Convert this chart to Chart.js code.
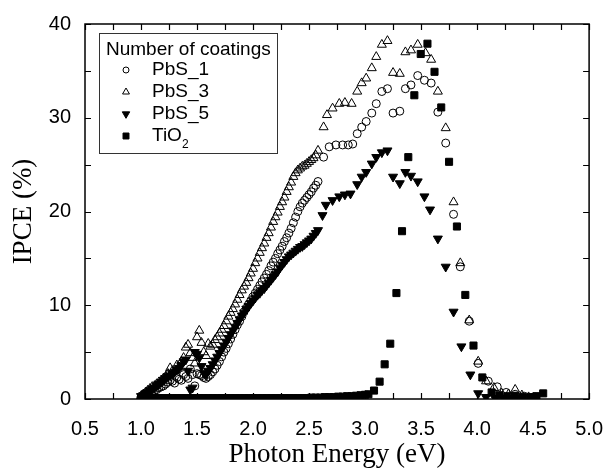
<!DOCTYPE html>
<html>
<head>
<meta charset="utf-8">
<script src="https://cdn.jsdelivr.net/npm/chart.js@4/dist/chart.umd.min.js"></script>
<style>
  html, body { margin: 0; padding: 0; background: #fff; }
  canvas { display: block; }
</style>
</head>
<body>
<canvas id="grafico" width="613" height="471"></canvas>
<script>
// dense low-energy part, shared by the three PbS samples (eV)
const eLow = [1.00,1.02,1.04,1.06,1.08,1.10,1.12,1.14,1.16,1.18,
              1.20,1.22,1.24,1.26,1.28,1.30,1.32,1.34,1.36,1.38,
              1.40,1.42,1.44,1.46,1.48,1.50,1.52,1.54,1.56,1.58,
              1.60,1.62,1.64,1.66,1.68,1.70,1.72,1.74,1.76,1.78,
              1.80,1.82,1.84,1.86,1.88,1.90,1.92,1.94,1.96,1.98,
              2.00,2.02,2.04,2.06,2.08,2.10,2.12,2.14,2.16,2.18,
              2.20,2.22,2.24,2.26,2.28,2.30,2.32,2.34,2.36,2.38,
              2.40,2.42,2.44,2.46,2.48,2.50,2.52,2.54,2.56,2.58];

// PbS_1 (open circles)
const pbs1Low = [0.2,0.3,0.4,0.5,0.6,0.8,0.9,1.0,1.2,1.3,
                 1.4,1.6,1.8,2.0,1.9,1.7,2.3,2.1,2.0,2.6,
                 2.4,2.2,3.2,2.6,1.4,2.7,2.6,2.5,2.3,2.2,
                 2.4,2.6,2.9,3.2,3.6,4.0,4.5,5.0,5.4,5.9,
                 6.4,6.9,7.4,7.9,8.3,8.8,9.3,9.7,10.1,10.5,
                 10.9,11.3,11.7,12.1,12.5,12.9,13.3,13.7,14.2,14.6,
                 15.0,15.5,15.9,16.3,16.8,17.2,17.7,18.2,18.8,19.4,
                 20.0,20.5,20.9,21.2,21.5,21.8,22.1,22.5,22.8,23.2];
const pbs1HighE = [2.63,2.68,2.74,2.80,2.85,2.89,2.93,2.97,3.01,3.06,3.10,3.15,3.20,3.25,3.31,3.36,
                   3.41,3.47,3.53,3.59,3.65,3.72,3.79,3.85,3.93,4.01,4.10,4.18,4.26,4.34,4.42,4.50];
const pbs1High = [25.8,26.9,27.1,27.1,27.1,27.2,28.3,29.0,29.6,30.5,31.5,32.8,33.1,30.5,30.7,33.1,
                  33.5,34.5,34.0,33.7,30.6,27.3,19.7,14.1,8.3,3.8,1.9,1.3,0.7,0.5,0.3,0.2];

// PbS_3 (open triangles)
const pbs3Low = [0.3,0.5,0.7,0.9,1.1,1.3,1.4,1.6,1.8,2.0,
                 2.2,2.4,2.7,3.3,3.0,3.0,3.6,3.4,4.0,4.4,
                 5.5,5.8,4.9,4.4,3.8,6.6,7.3,6.0,5.0,4.6,
                 5.9,5.6,5.8,6.3,6.6,7.0,7.4,7.8,8.3,8.8,
                 9.2,9.6,10.1,10.6,11.1,11.6,12.0,12.4,12.9,13.4,
                 13.9,14.5,15.0,15.6,16.1,16.6,17.2,17.7,18.3,18.9,
                 19.4,19.9,20.5,21.0,21.5,22.1,22.6,23.1,23.7,24.1,
                 24.4,24.6,24.8,24.9,25.1,25.3,25.5,25.7,26.0,26.5];
const pbs3HighE = [2.63,2.66,2.71,2.77,2.82,2.88,2.93,2.97,3.01,3.06,3.10,3.15,3.20,3.25,3.31,3.36,3.41,
                   3.47,3.54,3.59,3.65,3.72,3.79,3.85,3.93,4.01,4.08,4.15,4.22,4.28,4.34,4.40,4.46,4.52];
const pbs3High = [29.0,30.3,31.0,31.5,31.6,31.5,32.8,33.7,34.2,35.3,36.5,37.8,38.2,34.8,34.7,37.0,37.2,
                  37.8,36.9,36.2,32.8,28.9,21.0,14.5,8.4,4.0,1.9,1.2,0.6,0.5,1.0,0.4,0.2,0.1];

// PbS_5 (filled down triangles)
const pbs5Low = [0.3,0.4,0.6,0.7,0.9,1.1,1.2,1.4,1.6,1.8,
                 2.0,2.2,2.4,2.5,2.7,2.9,3.1,3.3,3.6,4.0,
                 4.2,3.0,1.0,1.2,5.0,4.8,4.4,3.5,2.8,2.6,
                 3.0,3.3,3.7,4.1,4.5,4.9,5.3,5.7,6.1,6.5,
                 6.9,7.3,7.7,8.1,8.5,8.9,9.2,9.6,9.9,10.2,
                 10.5,10.8,11.1,11.3,11.6,11.8,12.1,12.4,12.7,13.0,
                 13.3,13.6,14.0,14.3,14.6,14.9,15.2,15.4,15.6,15.8,
                 16.0,16.2,16.3,16.5,16.7,16.9,17.1,17.4,17.7,18.0];
const pbs5HighE = [2.62,2.65,2.71,2.77,2.82,2.87,2.93,2.97,3.01,3.06,3.10,3.15,3.20,3.25,3.31,3.36,
                   3.41,3.47,3.53,3.58,3.65,3.72,3.79,3.86,3.94,4.01,4.08,4.16,4.24,4.32,4.40,4.48];
const pbs5High = [19.6,20.7,21.2,21.6,21.8,21.9,22.9,23.7,24.2,25.1,25.8,26.3,26.5,23.7,23.0,24.2,
                  23.8,23.2,21.6,20.2,17.1,14.1,9.3,5.6,2.6,0.6,0.2,0.1,0.1,0.1,0.1,0.1];

// TiO2 (filled squares)
const tio2E = [1.00,1.04,1.08,1.12,1.16,1.20,1.24,1.28,1.32,1.36,1.40,1.44,1.48,1.52,1.56,1.60,1.64,
               1.68,1.72,1.76,1.80,1.84,1.88,1.92,1.96,2.00,2.04,2.08,2.12,2.16,2.20,2.24,2.28,2.32,
               2.36,2.40,2.44,2.48,2.52,2.56,2.60,2.64,2.68,2.72,2.76,2.80,2.84,2.88,2.92,2.96,3.00,
               3.03,3.08,3.13,3.175,3.225,3.28,3.33,3.386,3.44,3.497,3.557,3.62,3.68,3.75,3.82,3.895,
               3.968,4.047,4.13,4.20,4.27,4.34,4.41,4.48,4.53,4.59];
const tio2 = [0.1,0.1,0.1,0.1,0.1,0.1,0.1,0.1,0.1,0.1,0.1,0.1,0.1,0.1,0.1,0.1,0.1,
              0.1,0.1,0.1,0.1,0.1,0.1,0.1,0.1,0.1,0.1,0.1,0.1,0.1,0.1,0.1,0.1,0.1,
              0.1,0.1,0.1,0.1,0.15,0.15,0.15,0.2,0.2,0.2,0.25,0.25,0.3,0.3,0.35,0.4,0.45,
              0.5,0.9,1.85,3.7,5.9,11.3,17.9,25.8,32.4,36.8,37.9,34.9,31.1,25.3,18.4,11.1,
              5.7,2.3,0.7,0.4,0.3,0.3,0.2,0.2,0.3,0.6];

const seriesNames = ['PbS_1', 'PbS_3', 'PbS_5', 'TiO2'];
const legendTitle = 'Number of coatings';
const xTitle = 'Photon Energy (eV)';
const yTitle = 'IPCE (%)';

function pares(xs, ys) {
    return xs.map((v, i) => ({ x: v, y: ys[i] }));
}

const estilos = [
    { pointStyle: 'circle', radius: 4, rotation: 0, fill: 'rgba(0,0,0,0)', legRadius: 3 },
    { pointStyle: 'triangle', radius: 5.2, rotation: 0, fill: 'rgba(0,0,0,0)', legRadius: 4 },
    { pointStyle: 'triangle', radius: 5.2, rotation: 180, fill: '#000', legRadius: 4.3 },
    { pointStyle: 'rect', radius: 5, rotation: 0, fill: '#000', legRadius: 4.2 }
];

const dados = [
    pares(eLow.concat(pbs1HighE), pbs1Low.concat(pbs1High)),
    pares(eLow.concat(pbs3HighE), pbs3Low.concat(pbs3High)),
    pares(eLow.concat(pbs5HighE), pbs5Low.concat(pbs5High)),
    pares(tio2E, tio2)
];

const datasets = dados.map((d, i) => ({
    label: seriesNames[i],
    data: d,
    showLine: false,
    pointStyle: estilos[i].pointStyle,
    pointRotation: estilos[i].rotation,
    pointRadius: estilos[i].radius,
    pointHoverRadius: estilos[i].radius,
    pointBackgroundColor: estilos[i].fill,
    pointBorderColor: '#000',
    pointBorderWidth: 1
}));

// marker for the legend, same shapes as the data
function marcador(ctx, est, x, y) {
    const r = est.legRadius;
    ctx.beginPath();
    if (est.pointStyle === 'circle') {
        ctx.arc(x, y, r, 0, Math.PI * 2);
    } else if (est.pointStyle === 'rect') {
        const s = r * Math.SQRT1_2;
        ctx.rect(x - s, y - s, 2 * s, 2 * s);
    } else {
        const d = est.rotation === 180 ? -1 : 1;
        ctx.moveTo(x, y - d * r);
        ctx.lineTo(x + r * 0.866, y + d * r * 0.5);
        ctx.lineTo(x - r * 0.866, y + d * r * 0.5);
        ctx.closePath();
    }
    ctx.fillStyle = est.fill;
    ctx.fill();
    ctx.lineWidth = 1;
    ctx.strokeStyle = '#000';
    ctx.stroke();
}

const moldura = {
    id: 'moldura',
    afterDraw(chart) {
        const { ctx, chartArea: a } = chart;
        const x = chart.scales.x;
        const y = chart.scales.y;
        ctx.save();
        ctx.strokeStyle = '#000';
        ctx.lineWidth = 1.5;
        ctx.strokeRect(a.left, a.top, a.right - a.left, a.bottom - a.top);

        // inward ticks on all four sides
        ctx.lineWidth = 1.2;
        ctx.beginPath();
        for (let v = 0.5; v <= 5.001; v += 0.25) {
            const px = Math.round(x.getPixelForValue(v)) + 0.5;
            ctx.moveTo(px, a.bottom); ctx.lineTo(px, a.bottom - 6);
            ctx.moveTo(px, a.top); ctx.lineTo(px, a.top + 6);
        }
        for (let v = 0; v <= 40.001; v += 5) {
            const py = Math.round(y.getPixelForValue(v)) + 0.5;
            ctx.moveTo(a.left, py); ctx.lineTo(a.left + 6, py);
            ctx.moveTo(a.right, py); ctx.lineTo(a.right - 6, py);
        }
        ctx.stroke();

        // legend box
        const lx = 99.5, ly = 33.5, lw = 178, lh = 120;
        ctx.fillStyle = '#fff';
        ctx.fillRect(lx, ly, lw, lh);
        ctx.lineWidth = 1;
        ctx.strokeStyle = '#333';
        ctx.strokeRect(lx, ly, lw, lh);

        ctx.fillStyle = '#000';
        ctx.font = '19px "Liberation Sans", Arial, sans-serif';
        ctx.textBaseline = 'middle';
        ctx.textAlign = 'left';
        ctx.fillText(legendTitle, 106, 50);

        const linhas = [70, 92, 114, 136];
        seriesNames.forEach((nome, i) => {
            marcador(ctx, estilos[i], 126, linhas[i]);
            ctx.fillStyle = '#000';
            ctx.font = '19px "Liberation Sans", Arial, sans-serif';
            if (nome === 'TiO2') {
                ctx.fillText('TiO', 152, linhas[i]);
                const w = ctx.measureText('TiO').width;
                ctx.font = '12px "Liberation Sans", Arial, sans-serif';
                ctx.fillText('2', 152 + w, linhas[i] + 9);
            } else {
                ctx.fillText(nome, 152, linhas[i]);
            }
        });
        ctx.restore();
    }
};

Chart.defaults.color = '#000';

const chart = new Chart(document.getElementById('grafico').getContext('2d'), {
    type: 'scatter',
    data: { datasets: datasets },
    options: {
        responsive: false,
        animation: false,
        layout: { padding: { top: 24, right: 15, left: 0, bottom: 0 } },
        plugins: {
            legend: { display: false },
            tooltip: { enabled: false }
        },
        scales: {
            x: {
                type: 'linear',
                min: 0.5,
                max: 5.0,
                afterFit: s => { s.height = 72; },
                grid: { display: false },
                border: { display: false },
                ticks: {
                    stepSize: 0.5,
                    padding: 10,
                    maxRotation: 0,
                    autoSkip: false,
                    font: { family: '"Liberation Sans", Arial, sans-serif', size: 20 },
                    callback: v => v.toFixed(1)
                },
                title: {
                    display: true,
                    text: xTitle,
                    padding: { top: 0, bottom: 0 },
                    font: { family: '"Liberation Serif", "Times New Roman", serif', size: 27 }
                }
            },
            y: {
                type: 'linear',
                min: 0,
                max: 40,
                afterFit: s => { s.width = 85; },
                grid: { display: false },
                border: { display: false },
                ticks: {
                    stepSize: 10,
                    padding: 6,
                    font: { family: '"Liberation Sans", Arial, sans-serif', size: 20 }
                },
                title: {
                    display: true,
                    text: yTitle,
                    padding: { top: 8, bottom: 0 },
                    font: { family: '"Liberation Serif", "Times New Roman", serif', size: 27 }
                }
            }
        }
    },
    plugins: [moldura]
});
</script>
</body>
</html>
